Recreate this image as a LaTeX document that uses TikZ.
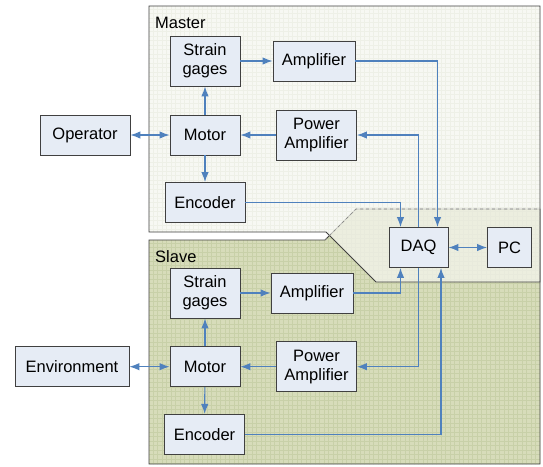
\documentclass[tikz,border=0pt]{standalone}
\usepackage{fontspec}
\setmainfont{Liberation Sans}
\usetikzlibrary{arrows.meta}
\definecolor{boxfill}{HTML}{E6ECF5}
\definecolor{boxline}{HTML}{404040}
\definecolor{arrblue}{HTML}{4F81BD}
\definecolor{slavefill}{HTML}{D7DCBA}
\definecolor{slavegrid}{HTML}{C8D0A8}
\definecolor{masterfill}{HTML}{F5F6EF}
\definecolor{mastergrid}{HTML}{E9EBDF}
\tikzset{
  blk/.style={draw=boxline, fill=boxfill, line width=0.9pt, inner sep=0pt, align=center,
    font=\fontsize{16.5}{19}\selectfont},
  arr/.style={draw=arrblue, line width=1.1pt, -{Latex[length=10pt,width=7.5pt]}},
  darr/.style={draw=arrblue, line width=1.1pt, {Latex[length=10pt,width=7.5pt]}-{Latex[length=10pt,width=7.5pt]}},
  lbl/.style={anchor=base west, inner sep=0pt, font=\fontsize{16.5}{19}\selectfont}
}
\begin{document}
\begin{tikzpicture}[x=1pt,y=-1pt]
\useasboundingbox (0,0) rectangle (543,466);
\fill[white] (0,0) rectangle (543,466);
% Slave panel
\fill[slavefill] (149,240) -- (325,240) -- (356,209) -- (540,209) -- (540,464) -- (149,464) -- cycle;
\begin{scope}
\clip (149,240) -- (325,240) -- (356,209) -- (540,209) -- (540,464) -- (149,464) -- cycle;
\draw[slavegrid, line width=0.5pt, step=4.5pt] (140,200) grid (545,470);
\end{scope}
\draw[boxline, line width=0.9pt] (356,209) -- (540,209) -- (540,464) -- (149,464) -- (149,240) -- (325,240) -- cycle;
% Master panel
\fill[masterfill, opacity=0.7] (149,6) -- (540,6) -- (540,282) -- (376,282) -- (326,232) -- (149,232) -- cycle;
\begin{scope}
\clip (149,6) -- (540,6) -- (540,282) -- (376,282) -- (326,232) -- (149,232) -- cycle;
\draw[mastergrid, line width=0.4pt, step=4.5pt, opacity=0.6] (140,0) grid (545,290);
\end{scope}
\draw[boxline, line width=0.9pt] (149,6) -- (540,6) -- (540,282) -- (376,282) -- (326,232) -- (149,232) -- cycle;
\draw[gray, dashed, line width=0.6pt] (325,240) -- (356,209) -- (540,209);
\node[lbl] (mlabel) at (155,28) {Master};
\node[lbl] (slabel) at (155,262) {Slave};
% Master nodes
\node[blk, minimum width=70pt, minimum height=50pt] (msg) at (205,61) {Strain\\gages};
\node[blk, minimum width=82pt, minimum height=40pt] (mamp) at (314,61) {Amplifier};
\node[blk, minimum width=70pt, minimum height=40pt] (mmot) at (205,135) {Motor};
\node[blk, minimum width=80pt, minimum height=50pt] (mpa) at (316.5,135) {Power\\Amplifier};
\node[blk, minimum width=80pt, minimum height=40pt] (menc) at (205,202.5) {Encoder};
\node[blk, minimum width=90pt, minimum height=40pt] (op) at (85,135) {Operator};
\node[blk, minimum width=59pt, minimum height=40pt] (daq) at (418.5,247.5) {DAQ};
\node[blk, minimum width=44pt, minimum height=40pt] (pc) at (509.5,247.5) {PC};
% Slave nodes
\node[blk, minimum width=70pt, minimum height=50pt] (ssg) at (205,293) {Strain\\gages};
\node[blk, minimum width=82pt, minimum height=40pt] (samp) at (312,293) {Amplifier};
\node[blk, minimum width=70pt, minimum height=40pt] (smot) at (205,366.7) {Motor};
\node[blk, minimum width=80pt, minimum height=50pt] (spa) at (316.5,366.7) {Power\\Amplifier};
\node[blk, minimum width=80pt, minimum height=40pt] (senc) at (204.5,434.3) {Encoder};
\node[blk, minimum width=114pt, minimum height=40pt] (env) at (72,366.7) {Environment};
% Master connectors
\draw[arr] (msg) -- (mamp);
\draw[arr] (mamp.east) -| ([xshift=19pt]daq.north);
\draw[arr] (mmot) -- (msg);
\draw[arr] (mpa) -- (mmot);
\draw[arr] (daq.north) |- (mpa.east);
\draw[arr] (mmot) -- (menc);
\draw[arr] (menc.east) -| ([xshift=-18pt]daq.north);
\draw[darr] (op) -- (mmot);
\draw[darr] (daq) -- (pc);
% Slave connectors
\draw[arr] (ssg) -- (samp);
\draw[arr] (samp.east) -| ([xshift=-18pt]daq.south);
\draw[arr] (smot) -- (ssg);
\draw[arr] (spa) -- (smot);
\draw[arr] (daq.south) |- (spa.east);
\draw[arr] (smot) -- (senc);
\draw[arr] (senc.east) -| ([xshift=22.5pt]daq.south);
\draw[darr] (env) -- (smot);
\end{tikzpicture}
\end{document}
